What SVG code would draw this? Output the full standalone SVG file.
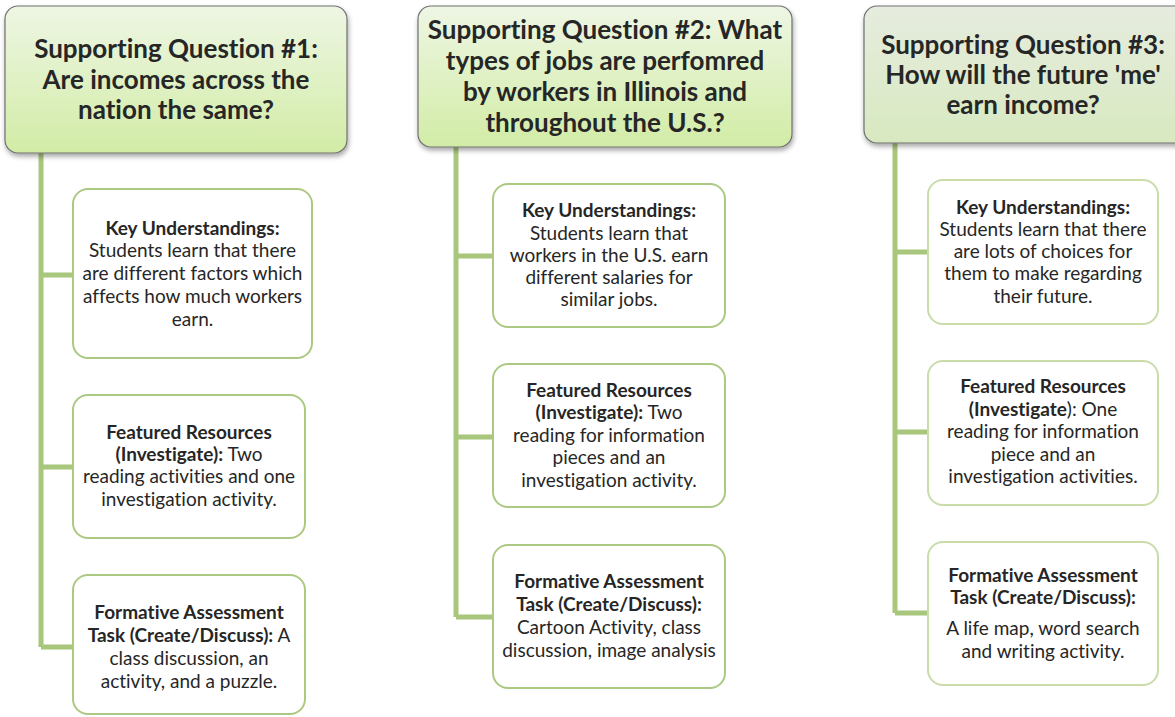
<svg xmlns="http://www.w3.org/2000/svg" width="1175" height="717" viewBox="0 0 1175 717">
<defs>
<linearGradient id="hg" x1="0" y1="0" x2="0" y2="1">
<stop offset="0" stop-color="#eef6e4"/>
<stop offset="1" stop-color="#d2eca6"/>
</linearGradient>
<linearGradient id="hg3" x1="0" y1="0" x2="0" y2="1">
<stop offset="0" stop-color="#e6ecdf"/>
<stop offset="1" stop-color="#d8e9c0"/>
</linearGradient>
<filter id="sh" x="-10%" y="-10%" width="120%" height="130%">
<feDropShadow dx="1" dy="3" stdDeviation="2.5" flood-color="#000" flood-opacity="0.35"/>
</filter>
</defs>
<style>
.hd{stroke:#707070;stroke-width:1.2;filter:url(#sh)}
.bx{fill:#ffffff;stroke:#acc983;stroke-width:2}
.bx3{fill:#ffffff;stroke:#c9dcaa;stroke-width:2}
.cn{fill:none;stroke:#a8c67c;stroke-width:5;stroke-linejoin:miter}
.ht{font-family:Lato,"Open Sans",sans-serif;font-weight:bold;font-size:26px;fill:#262626;text-anchor:middle;font-variant-ligatures:none}
.bt{font-family:Lato,"Open Sans",sans-serif;font-size:19px;fill:#262626;text-anchor:middle;font-variant-ligatures:none}
.b{font-weight:bold}
</style>
<rect width="1175" height="717" fill="#ffffff"/>
<g id="connectors">
<path class="cn" d="M41,153 V647 M41,275 H75 M41,467 H75 M41,647 H75"/>
<path class="cn" d="M456,147 V617 M456,256 H495 M456,437 H495 M456,617 H495"/>
<path class="cn" d="M895,143 V613 M895,252 H930 M895,432 H930 M895,613 H930"/>
</g>
<g id="q1">
<rect class="hd" x="5" y="6" width="342" height="147" rx="13" fill="url(#hg)"/>
<text class="ht" x="176" y="58">Supporting Question #1:</text>
<text class="ht" x="176" y="89">Are incomes across the</text>
<text class="ht" x="176" y="119">nation the same?</text>
</g>
<g id="q2">
<rect class="hd" x="418" y="6" width="374" height="141" rx="13" fill="url(#hg)"/>
<text class="ht" x="605" y="39">Supporting Question #2: What</text>
<text class="ht" x="605" y="70">types of jobs are perfomred</text>
<text class="ht" x="605" y="101">by workers in Illinois and</text>
<text class="ht" x="605" y="132">throughout the U.S.?</text>
</g>
<g id="q3">
<rect class="hd" x="864" y="6" width="326" height="137" rx="13" fill="url(#hg3)"/>
<text class="ht" x="1023" y="54">Supporting Question #3:</text>
<text class="ht" x="1023" y="84">How will the future 'me'</text>
<text class="ht" x="1023" y="114">earn income?</text>
</g>
<g id="q1-key">
<rect class="bx" x="73" y="189" width="239" height="169" rx="15"/>
<text class="bt" x="192.5" y="235"><tspan class="b">Key Understandings:</tspan></text>
<text class="bt" x="192.5" y="257">Students learn that there</text>
<text class="bt" x="192.5" y="280">are different factors which</text>
<text class="bt" x="192.5" y="303">affects how much workers</text>
<text class="bt" x="192.5" y="326">earn.</text>
</g>
<g id="q1-res">
<rect class="bx" x="73" y="395" width="232" height="143" rx="15"/>
<text class="bt" x="189" y="439"><tspan class="b">Featured Resources</tspan></text>
<text class="bt" x="189" y="461"><tspan class="b">(Investigate):</tspan> Two</text>
<text class="bt" x="189" y="483">reading activities and one</text>
<text class="bt" x="189" y="506">investigation activity.</text>
</g>
<g id="q1-task">
<rect class="bx" x="73" y="575" width="232" height="139" rx="15"/>
<text class="bt" x="189" y="619"><tspan class="b">Formative Assessment</tspan></text>
<text class="bt" x="189" y="642"><tspan class="b">Task (Create/Discuss):</tspan> A</text>
<text class="bt" x="189" y="665">class discussion, an</text>
<text class="bt" x="189" y="688">activity, and a puzzle.</text>
</g>
<g id="q2-key">
<rect class="bx" x="493" y="184" width="232" height="143" rx="15"/>
<text class="bt" x="609" y="217"><tspan class="b">Key Understandings:</tspan></text>
<text class="bt" x="609" y="240">Students learn that</text>
<text class="bt" x="609" y="262">workers in the U.S. earn</text>
<text class="bt" x="609" y="284">different salaries for</text>
<text class="bt" x="609" y="306">similar jobs.</text>
</g>
<g id="q2-res">
<rect class="bx" x="493" y="364" width="232" height="143" rx="15"/>
<text class="bt" x="609" y="397"><tspan class="b">Featured Resources</tspan></text>
<text class="bt" x="609" y="419"><tspan class="b">(Investigate):</tspan> Two</text>
<text class="bt" x="609" y="442">reading for information</text>
<text class="bt" x="609" y="464">pieces and an</text>
<text class="bt" x="609" y="487">investigation activity.</text>
</g>
<g id="q2-task">
<rect class="bx" x="493" y="545" width="232" height="143" rx="15"/>
<text class="bt" x="609" y="588"><tspan class="b">Formative Assessment</tspan></text>
<text class="bt" x="609" y="611"><tspan class="b">Task (Create/Discuss):</tspan></text>
<text class="bt" x="609" y="634">Cartoon Activity, class</text>
<text class="bt" x="609" y="657">discussion, image analysis</text>
</g>
<g id="q3-key">
<rect class="bx3" x="928" y="180" width="230" height="144" rx="15"/>
<text class="bt" x="1043" y="214"><tspan class="b">Key Understandings:</tspan></text>
<text class="bt" x="1043" y="236">Students learn that there</text>
<text class="bt" x="1043" y="258">are lots of choices for</text>
<text class="bt" x="1043" y="280">them to make regarding</text>
<text class="bt" x="1043" y="303">their future.</text>
</g>
<g id="q3-res">
<rect class="bx3" x="928" y="361" width="230" height="144" rx="15"/>
<text class="bt" x="1043" y="393"><tspan class="b">Featured Resources</tspan></text>
<text class="bt" x="1043" y="416"><tspan class="b">(Investigate</tspan>): One</text>
<text class="bt" x="1043" y="438">reading for information</text>
<text class="bt" x="1043" y="461">piece and an</text>
<text class="bt" x="1043" y="483">investigation activities.</text>
</g>
<g id="q3-task">
<rect class="bx3" x="928" y="542" width="230" height="143" rx="15"/>
<text class="bt" x="1043" y="582"><tspan class="b">Formative Assessment</tspan></text>
<text class="bt" x="1043" y="604"><tspan class="b">Task (Create/Discuss):</tspan></text>
<text class="bt" x="1043" y="635">A life map, word search</text>
<text class="bt" x="1043" y="658">and writing activity.</text>
</g>
</svg>
